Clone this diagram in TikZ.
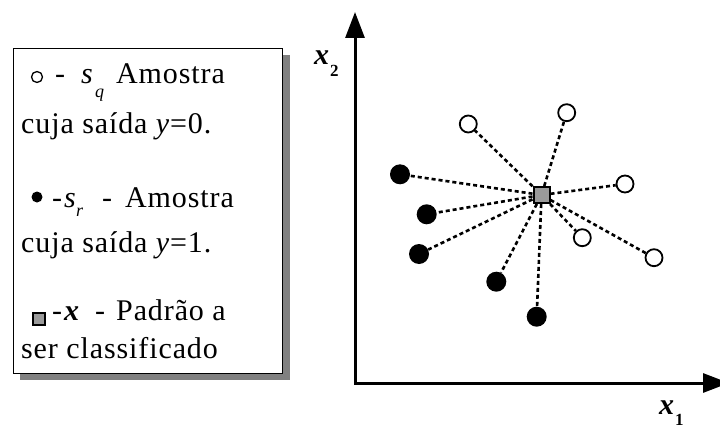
\documentclass[tikz,border=0pt]{standalone}
\usepackage{fontspec}
\setmainfont{Liberation Serif}
\usetikzlibrary{arrows.meta}
\definecolor{shadowgray}{HTML}{808080}
\definecolor{sqgray}{HTML}{9A9A9A}
\begin{document}
\begin{tikzpicture}[x=1pt,y=-1pt,
  txt/.style={inner sep=0pt,anchor=base west,font=\fontsize{30}{32}\selectfont\addfontfeatures{LetterSpace=3}},
  itxt/.style={inner sep=0pt,anchor=base west,font=\fontsize{30}{32}\selectfont\itshape},
  sub/.style={inner sep=0pt,anchor=base west,font=\fontsize{18}{18}\selectfont\itshape},
  lab/.style={inner sep=0pt,anchor=base west,font=\fontsize{30}{32}\selectfont\bfseries\itshape},
  labsub/.style={inner sep=0pt,anchor=base west,font=\fontsize{17}{18}\selectfont\bfseries},
  opensample/.style={circle,draw,line width=1.8pt,fill=white,minimum size=17pt,inner sep=0pt},
  fullsample/.style={circle,fill=black,minimum size=20pt,inner sep=0pt},
  target/.style={rectangle,draw,line width=2pt,fill=sqgray,minimum size=16pt,inner sep=0pt},
  link/.style={line width=2.6pt,dash pattern=on 4pt off 3pt},
  axis/.style={line width=3pt,line join=miter,{Triangle[width=19pt,length=26pt]}-{Triangle[width=19pt,length=26pt]}}]
\useasboundingbox (0,0) rectangle (720,428);

% legend box with shadow
\fill[shadowgray] (20.3,55.3) rectangle (289.7,380.3);
\node[draw,fill=white,line width=1.5pt,minimum width=269.4pt,minimum height=325pt,inner sep=0pt] (legend) at (148,210.8) {};

% line 1
\node[circle,draw,line width=1.3pt,minimum size=11pt,inner sep=0pt] (lo) at (37,77) {};
\node[txt] (l1a) at (55,83) {-};
\node[itxt] (l1s) at (81,83) {s};
\node[sub] (l1q) at (95,97) {q};
\node[txt] (l1b) at (116,83) {Amostra};
% line 2
\node[txt] (l2) at (21,133) {cuja saída \textit{y}=0.};
% line 3
\node[circle,fill=black,minimum size=11pt,inner sep=0pt] (lf) at (37,197) {};
\node[txt] (l3a) at (52,207) {-};
\node[itxt] (l3s) at (64,207) {s};
\node[sub] (l3r) at (76,216) {r};
\node[txt] (l3b) at (102,207) {-};
\node[txt] (l3c) at (125,207) {Amostra};
% line 4
\node[txt] (l4) at (21,252) {cuja saída \textit{y}=1.};
% line 5
\node[rectangle,draw,line width=1.3pt,fill=sqgray,minimum size=12pt,inner sep=0pt] (ls) at (39,319) {};
\node[txt] (l5a) at (52,320) {-};
\node[itxt,font=\fontsize{30}{32}\selectfont\bfseries\itshape] (l5x) at (64,320) {x};
\node[txt] (l5b) at (95,320) {-};
\node[txt] (l5c) at (116,320) {Padrão a};
% line 6
\node[txt] (l6) at (21,358) {ser classificado};

% axes
\coordinate (orig) at (355,383);
\coordinate (ytip) at (355,12);
\coordinate (xtip) at (729,383);
\draw[axis] (ytip) -- (orig) -- (xtip);
\node[lab] (x2) at (314,65) {x};
\node[labsub] (x2s) at (330,77) {2};
\node[lab] (x1) at (659,414) {x};
\node[labsub] (x1s) at (675,425) {1};

% samples
\node[target] (c) at (541.5,195) {};
\node[opensample] (o1) at (468.3,124) {};
\node[opensample] (o2) at (566.7,112.7) {};
\node[opensample] (o3) at (625,184) {};
\node[opensample] (o4) at (582.3,237.7) {};
\node[opensample] (o5) at (654,257.7) {};
\node[fullsample] (f1) at (400,174.3) {};
\node[fullsample] (f2) at (426.7,214.3) {};
\node[fullsample] (f3) at (419,254) {};
\node[fullsample] (f4) at (496.3,281.7) {};
\node[fullsample] (f5) at (536.7,316.7) {};

\foreach \s in {o1,o2,o3,o4,o5,f1,f2,f3,f4,f5}
  \draw[link] (c) -- (\s);
\end{tikzpicture}
\end{document}
